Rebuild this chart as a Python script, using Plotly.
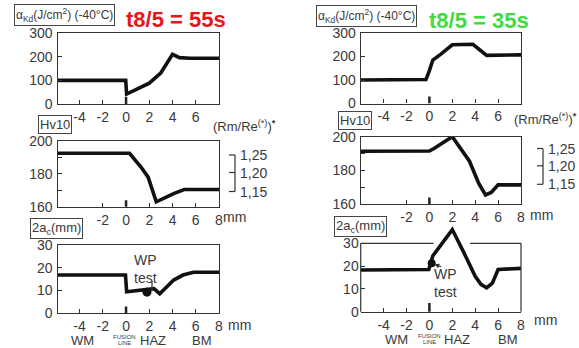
import plotly.graph_objects as go

W, H = 579, 348

# ---------------- data ----------------
ak55_x = [-5.9, -0.03, 0.05, 0.5, 1, 2, 3, 4, 4.6, 5.5, 8]
ak55_y = [100, 100, 42, 52, 64, 88, 132, 210, 196, 193, 193]

ak35_x = [-6, -0.3, 0, 0.3, 1, 2, 3.8, 4.5, 5, 8]
ak35_y = [100, 102, 140, 185, 210, 250, 252, 225, 205, 207]

hv55_x = [-5.9, 0.3, 1.3, 1.9, 2.6, 3.3, 4.1, 5, 8]
hv55_y = [192.5, 192.5, 184, 178, 163, 165.5, 168, 170.5, 170.5]

hv35_x = [-6, 0, 0.4, 2, 3.5, 4.3, 4.9, 5.4, 6, 8]
hv35_y = [191.4, 191.5, 193, 200, 185.5, 172.5, 165.5, 167, 171.5, 171.5]

ac55_x = [-5.9, -0.05, 0.05, 1, 2, 2.4, 2.9, 3.4, 4.1, 4.9, 5.8, 8]
ac55_y = [16.8, 16.8, 9.5, 10, 10.5, 10.8, 8.6, 11, 14.6, 16.8, 18, 18]

ac35_x = [-6, -0.05, 0.3, 1, 2, 3, 4, 4.5, 5, 5.5, 6, 8]
ac35_y = [18.3, 18.5, 24.5, 29, 36, 26, 15.5, 12, 10.5, 12.5, 18.5, 19]

wp55 = (1.8, 9.3)
wp35 = (0.2, 21.2)

ak_ticks = [0, 100, 200, 300]
hv_ticks = [160, 170, 180, 190, 200]
hv_text = ["160", " ", "180", " ", "200"]
ac_ticks = [0, 10, 20, 30]
x_ticks_r1 = [-4, -2, 0, 2, 4, 6]
x_ticks_r2 = [-2, 0, 2, 4, 6, 8]
x_ticks_r3 = [-4, -2, 0, 2, 4, 6, 8]
ratio_labels = ["1,25", "1,20", "1,15"]

# ---------------- helpers ----------------
def PX(x):
    return x / W

def PY(y):
    return 1 - y / H

FONT = "Liberation Sans, Arial, sans-serif"
TXT = "#3a3a3a"
LINE = "#111111"

fig = go.Figure()

def add_curve(xs, ys, n):
    suffix = "" if n == 1 else str(n)
    fig.add_trace(go.Scatter(x=xs, y=ys, mode="lines",
                             line=dict(color=LINE, width=3.6),
                             xaxis="x" + suffix, yaxis="y" + suffix,
                             showlegend=False, hoverinfo="skip"))

add_curve(ak55_x, ak55_y, 1)
add_curve(ak35_x, ak35_y, 2)
add_curve(hv55_x, hv55_y, 3)
add_curve(hv35_x, hv35_y, 4)
add_curve(ac55_x, ac55_y, 5)
add_curve(ac35_x, ac35_y, 6)

fig.add_trace(go.Scatter(x=[wp55[0]], y=[wp55[1]], mode="markers",
                         marker=dict(color=LINE, size=9), xaxis="x5", yaxis="y5",
                         showlegend=False, hoverinfo="skip"))
fig.add_trace(go.Scatter(x=[wp35[0]], y=[wp35[1]], mode="markers",
                         marker=dict(color=LINE, size=8), xaxis="x6", yaxis="y6",
                         showlegend=False, hoverinfo="skip"))

LEFT = (57.5, 219.0)
RIGHT = (360.7, 521.0)
panels = {
    1: (LEFT, 33.0, 104.0, [-5.9, 8], [0, 300], x_ticks_r1, ak_ticks, None),
    2: (RIGHT, 33.0, 103.5, [-6, 8], [0, 300], x_ticks_r1, ak_ticks, None),
    3: (LEFT, 141.0, 206.7, [-5.9, 8], [160, 200], x_ticks_r2, hv_ticks, hv_text),
    4: (RIGHT, 136.7, 204.3, [-6, 8], [160, 200], x_ticks_r2, hv_ticks, hv_text),
    5: (LEFT, 245.0, 313.3, [-5.9, 8], [0, 30], x_ticks_r3, ac_ticks, None),
    6: (RIGHT, 225.0, 311.7, [-6, 8], [0, 38], x_ticks_r3, ac_ticks, None),
}

layout = dict(template="none", width=W, height=H,
              margin=dict(l=0, r=0, t=0, b=0, pad=0, autoexpand=False),
              paper_bgcolor="white", plot_bgcolor="white", showlegend=False)

tickfont = dict(family=FONT, size=14, color=TXT)
for n, (xs, yt, yb, xr, yr, xt, yt_vals, yt_text) in panels.items():
    suffix = "" if n == 1 else str(n)
    box = n != 6
    layout["xaxis" + suffix] = dict(
        domain=[PX(xs[0]), PX(xs[1])], range=xr, anchor="y" + suffix,
        showline=True, mirror=box, linecolor="#333", linewidth=1.2,
        ticks="inside", ticklen=4, tickwidth=1.2, tickcolor="#333",
        tickvals=xt, ticktext=[str(v) for v in xt],
        tickfont=tickfont, showgrid=False, zeroline=False,
        fixedrange=True, automargin=False)
    ya = dict(
        domain=[PY(yb), PY(yt)], range=yr, anchor="x" + suffix,
        showline=box, mirror=box, linecolor="#333", linewidth=1.2,
        ticks="inside", ticklen=4, tickwidth=1.2, tickcolor="#333",
        tickvals=yt_vals, tickfont=tickfont, showgrid=False, zeroline=False,
        fixedrange=True, automargin=False, ticklabelstandoff=1)
    if yt_text:
        ya["ticktext"] = yt_text
    layout["yaxis" + suffix] = ya

fig.update_layout(**layout)

shapes = []
for n in panels:
    suffix = "" if n == 1 else str(n)
    yr = panels[n][4]
    shapes.append(dict(type="line", xref="x" + suffix, yref="y" + suffix,
                       x0=0, x1=0, y0=yr[0], y1=yr[0] + (yr[1] - yr[0]) * 0.1,
                       line=dict(color="#222", width=2.5)))

# panel 6 box with a gap in the top border
y30 = 243.3
y0p = 311.7
for seg in [(RIGHT[0], RIGHT[0], y30, y0p), (RIGHT[1], RIGHT[1], y30, y0p),
            (RIGHT[0], 433.5, y30, y30), (470.0, RIGHT[1], y30, y30)]:
    shapes.append(dict(type="line", xref="paper", yref="paper",
                       x0=PX(seg[0]), x1=PX(seg[1]), y0=PY(seg[2]), y1=PY(seg[3]),
                       line=dict(color="#333", width=1.2)))

def bracket(xv, ytop, ymid, ybot):
    out = [dict(type="line", xref="paper", yref="paper", x0=PX(xv), x1=PX(xv),
                y0=PY(ytop), y1=PY(ybot), line=dict(color="#333", width=1.2))]
    for yy in (ytop, ymid, ybot):
        out.append(dict(type="line", xref="paper", yref="paper", x0=PX(xv - 6), x1=PX(xv),
                        y0=PY(yy), y1=PY(yy), line=dict(color="#333", width=1.2)))
    return out

shapes += bracket(235, 155, 172.5, 191.5)
shapes += bracket(543, 148.5, 165.8, 184.3)

shapes.append(dict(type="line", xref="paper", yref="paper", x0=PX(152), x1=PX(152),
                   y0=PY(281), y1=PY(291), line=dict(color="#333", width=1.2)))

fig.update_layout(shapes=shapes)

ann = []

def text(x, y, s, size=14, color=TXT, family=FONT, xanchor="center", **kw):
    d = dict(x=PX(x), y=PY(y), xref="paper", yref="paper", text=s, showarrow=False,
             font=dict(family=family, size=size, color=color), xanchor=xanchor,
             yanchor="middle")
    d.update(kw)
    ann.append(d)

text(176, 19, "<b>t8/5 = 55s</b>", size=22, color="#e8141c")
text(479, 21, "<b>t8/5 = 35s</b>", size=22, color="#3fdc3f")

box_kw = dict(bordercolor="#444", borderwidth=1, borderpad=1)
text(64.5, 15, "α<sub>Kd</sub>(J/cm<sup>2</sup>) (-40°C)", size=12, **box_kw)
text(366.5, 16, "α<sub>Kd</sub>(J/cm<sup>2</sup>) (-40°C)", size=12, **box_kw)
text(55, 124, "Hv10", size=13, **box_kw)
text(355, 121, "Hv10", size=13, **box_kw)
text(56.5, 228.5, "2a<sub>c</sub>(mm)", size=13, **box_kw)
text(360.5, 226.5, "2a<sub>c</sub>(mm)", size=13, **box_kw)

text(244, 126, "(Rm/Re<sup>(*)</sup>)<sup><b>*</b></sup>", size=13)
text(545, 119, "(Rm/Re<sup>(*)</sup>)<sup><b>*</b></sup>", size=13)
for lbl, yy in zip(ratio_labels, (155, 172.5, 191.5)):
    text(238, yy, lbl, size=14, xanchor="left")
for lbl, yy in zip(ratio_labels, (148.5, 165.8, 184.3)):
    text(546, yy, lbl, size=14, xanchor="left")

text(234, 217, "mm", size=14)
text(239, 325, "mm", size=14)
text(541, 215, "mm", size=14)
text(545, 320, "mm", size=14)

text(145, 268.5, "WP<br>test", size=14)
text(445, 283, "WP<br>test", size=14)
ann.append(dict(x=wp35[0], y=wp35[1], xref="x6", yref="y6", text="", showarrow=True,
                arrowhead=2, arrowsize=0.8, arrowwidth=1.2, arrowcolor="#333",
                ax=11, ay=4, standoff=3))

for (x, s) in [(82, "WM"), (153, "HAZ"), (202, "BM")]:
    text(x, 340.5, s, size=13)
text(124, 336.5, "FUSION", size=6)
text(124, 343, "LINE", size=6)
for (x, s) in [(396, "WM"), (457, "HAZ"), (508, "BM")]:
    text(x, 339, s, size=13)
text(429, 335.5, "FUSION", size=6)
text(429, 342, "LINE", size=6)

fig.update_layout(annotations=ann)

fig.write_html("out.html")
